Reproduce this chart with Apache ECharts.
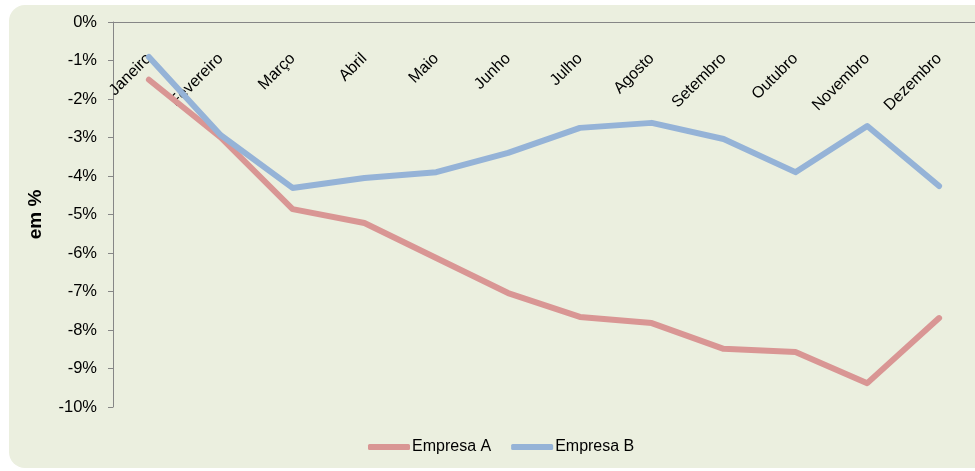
<!DOCTYPE html>
<html>
<head>
<meta charset="utf-8">
<script src="https://cdn.jsdelivr.net/npm/echarts@6/dist/echarts.min.js"></script>
<style>
  html, body { margin: 0; padding: 0; background: #fff; }
  #wrap { position: relative; width: 975px; height: 471px; overflow: hidden; }
  #panel {
    position: absolute; left: 9px; top: 5px; width: 990px; height: 463px;
    background: #ebefdf; border-radius: 16px;
  }
  #chart { position: absolute; left: 0; top: 0; width: 975px; height: 471px; }
</style>
</head>
<body>
<div id="wrap">
  <div id="panel"></div>
  <div id="chart"></div>
</div>
<script>
// dados (variação em %)
const meses = ['Janeiro', 'Fevereiro', 'Março', 'Abril', 'Maio', 'Junho',
  'Julho', 'Agosto', 'Setembro', 'Outubro', 'Novembro', 'Dezembro']
const empresaA = [-1.5, -3.0, -4.86, -5.22, -6.13, -7.04, -7.66, -7.82, -8.49, -8.57, -9.38, -7.69]
const empresaB = [-0.91, -2.94, -4.31, -4.05, -3.9, -3.4, -2.75, -2.62, -3.04, -3.9, -2.7, -4.26]

const chart = echarts.init(document.getElementById('chart'))
const font = 'Liberation Sans'

chart.setOption({
  backgroundColor: 'transparent',
  animation: false,
  textStyle: { fontFamily: font },
  grid: { left: 113, top: 22, width: 864, height: 385 },
  legend: {
    bottom: 11,
    left: 363,
    itemWidth: 42,
    itemHeight: 6,
    itemGap: 20,
    icon: 'roundRect',
    textStyle: { fontFamily: font, fontSize: 16, color: '#000', padding: [0, 0, 0, -3] },
    data: ['Empresa A', 'Empresa B']
  },
  xAxis: {
    type: 'category',
    position: 'top',
    data: meses,
    axisLine: { lineStyle: { color: '#868686', width: 1 } },
    axisTick: { inside: true, length: 7, lineStyle: { color: '#868686' } },
    axisLabel: {
      inside: true,
      rotate: 45,
      margin: 34,
      fontSize: 16,
      color: '#000',
      interval: 0
    }
  },
  yAxis: {
    type: 'value',
    min: -10,
    max: 0,
    interval: 1,
    name: 'em %',
    nameLocation: 'middle',
    nameGap: 68,
    nameTextStyle: { fontFamily: font, fontSize: 19, fontWeight: 'bold', color: '#000' },
    axisLine: { show: true, lineStyle: { color: '#868686', width: 1 } },
    axisTick: { show: true, length: 5, lineStyle: { color: '#868686' } },
    splitLine: { show: false },
    axisLabel: {
      formatter: v => v + '%',
      fontSize: 16.5,
      color: '#000',
      margin: 16
    }
  },
  series: [
    {
      name: 'Empresa A',
      type: 'line',
      data: empresaA,
      showSymbol: false,
      lineStyle: { color: '#d99694', width: 6, cap: 'round', join: 'round' },
      itemStyle: { color: '#d99694' }
    },
    {
      name: 'Empresa B',
      type: 'line',
      data: empresaB,
      showSymbol: false,
      lineStyle: { color: '#95b3d7', width: 6, cap: 'round', join: 'round' },
      itemStyle: { color: '#95b3d7' }
    }
  ]
})
</script>
</body>
</html>
